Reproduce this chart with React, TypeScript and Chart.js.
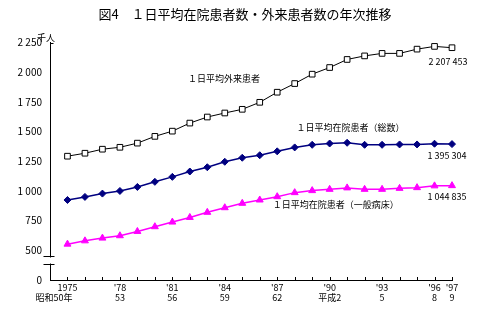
import { useEffect, useRef } from 'react';
import { Chart, registerables } from 'chart.js';

Chart.register(...registerables);

const FONT = '"Noto Sans CJK JP", "Noto Sans", sans-serif';

const TITLE = '図4　１日平均在院患者数・外来患者数の年次推移';
const UNIT = '千人';

const years = [1975, 1976, 1977, 1978, 1979, 1980, 1981, 1982, 1983, 1984, 1985, 1986, 1987, 1988, 1989, 1990, 1991, 1992, 1993, 1994, 1995, 1996, 1997];

// 1日平均外来患者 (千人)
const outpatients = [1293, 1318, 1352, 1368, 1403, 1460, 1504, 1572, 1623, 1657, 1688, 1747, 1832, 1905, 1984, 2040, 2108, 2138, 2159, 2159, 2195, 2218, 2207];
// 1日平均在院患者（総数）
const inpatientsTotal = [924, 950, 978, 1000, 1034, 1077, 1119, 1164, 1200, 1246, 1280, 1301, 1334, 1367, 1389, 1400, 1406, 1389, 1389, 1392, 1392, 1398, 1395];
// 1日平均在院患者（一般病床）
const inpatientsGeneral = [552, 580, 603, 623, 659, 699, 738, 777, 820, 859, 896, 924, 952, 986, 1003, 1014, 1026, 1014, 1014, 1022, 1028, 1043, 1045];

const seriesNames = ['１日平均外来患者', '１日平均在院患者（総数）', '１日平均在院患者（一般病床）'];

// x tick labels
const xLabelYears = [1975, 1978, 1981, 1984, 1987, 1990, 1993, 1996, 1997];
const xLabelTop = ['1975', "'78", "'81", "'84", "'87", "'90", "'93", "'96", "'97"];
const xLabelBottom = ['昭和50年　　　', '53', '56', '59', '62', '平成2', '5', '8', '9'];

// y axis (the lowest tick stands for 0, across the axis break)
const yMin = 250;
const yMax = 2250;
const yStep = 250;

// on-chart labels, anchored in data space (year, value)
const noteTexts = ['１日平均外来患者', '2 207 453', '１日平均在院患者（総数）', '1 395 304', '1 044 835', '１日平均在院患者（一般病床）'];
const noteYears = [1981.9, 1995.65, 1988.1, 1995.6, 1995.6, 1986.75];
const noteValues = [1950, 2094, 1536, 1299, 955, 885];

const fmt = (v: number) => {
  if (v === yMin) return '0';
  if (v >= 1000) return `${Math.floor(v / 1000)} ${String(v % 1000).padStart(3, '0')}`;
  return String(v);
};

const decorPlugin = {
  id: 'decor',
  afterDraw(chart: any) {
    const { ctx, chartArea: a, scales } = chart;
    const xs = scales.x;
    const ys = scales.y;
    ctx.save();
    ctx.strokeStyle = '#000';
    ctx.lineWidth = 1;
    // inward x ticks
    ctx.beginPath();
    years.forEach((yr) => {
      const px = Math.round(xs.getPixelForValue(yr)) + 0.5;
      ctx.moveTo(px, Math.round(a.bottom) + 0.5);
      ctx.lineTo(px, Math.round(a.bottom) - 3);
    });
    // top hook on y axis
    const lx = Math.round(a.left) + 0.5;
    const ty = Math.round(a.top) + 0.5;
    ctx.moveTo(lx, ty);
    ctx.lineTo(lx + 3, ty);
    ctx.stroke();
    // axis break
    const y1 = Math.round(ys.getPixelForValue(455)) + 0.5;
    const y2 = Math.round(ys.getPixelForValue(385)) + 0.5;
    ctx.fillStyle = '#fff';
    ctx.fillRect(lx - 2, y1 + 1, 4, y2 - y1 - 2);
    ctx.beginPath();
    ctx.moveTo(lx - 7, y1);
    ctx.lineTo(lx + 4, y1);
    ctx.moveTo(lx - 7, y2);
    ctx.lineTo(lx + 4, y2);
    ctx.stroke();
    // unit
    ctx.fillStyle = '#000';
    ctx.font = `9px ${FONT}`;
    ctx.textBaseline = 'middle';
    ctx.textAlign = 'center';
    ctx.fillText(UNIT, a.left - 4, a.top - 5);
    // notes
    ctx.textAlign = 'left';
    noteTexts.forEach((t, i) => {
      ctx.fillText(t, xs.getPixelForValue(noteYears[i]), ys.getPixelForValue(noteValues[i]));
    });
    ctx.restore();
  },
};

export default function App() {
  const ref = useRef<HTMLCanvasElement>(null);
  useEffect(() => {
    const toPts = (arr: number[]) => years.map((yr, i) => ({ x: yr, y: arr[i] }));
    const chart = new Chart(ref.current!, {
      type: 'line',
      data: {
        datasets: [
          {
            label: seriesNames[0],
            data: toPts(outpatients),
            borderColor: '#000',
            borderWidth: 1,
            pointStyle: 'rect',
            pointRadius: 4,
            pointBackgroundColor: '#fff',
            pointBorderColor: '#000',
            pointBorderWidth: 1,
            clip: false,
          },
          {
            label: seriesNames[1],
            data: toPts(inpatientsTotal),
            borderColor: '#000080',
            borderWidth: 1.5,
            pointStyle: 'rectRot',
            pointRadius: 3.5,
            pointBackgroundColor: '#000080',
            pointBorderColor: '#000080',
            pointBorderWidth: 1,
            clip: false,
          },
          {
            label: seriesNames[2],
            data: toPts(inpatientsGeneral),
            borderColor: '#ff00ff',
            borderWidth: 1.5,
            pointStyle: 'triangle',
            pointRadius: 4,
            pointBackgroundColor: '#ff00ff',
            pointBorderColor: '#ff00ff',
            pointBorderWidth: 1,
            clip: false,
          },
        ],
      },
      options: {
        animation: false,
        responsive: false,
        devicePixelRatio: 1,
        layout: { padding: 0 },
        plugins: {
          legend: { display: false },
          tooltip: { enabled: false },
          title: {
            display: true,
            text: TITLE,
            color: '#000',
            font: { family: FONT, size: 13, weight: 'normal', lineHeight: 1.2 },
            padding: { top: 6, bottom: 21 },
          },
        },
        scales: {
          x: {
            type: 'linear',
            min: 1974,
            max: 1997,
            afterFit: (s: any) => { s.height = 30; },
            grid: { display: false, drawTicks: false },
            border: { display: true, color: '#000', width: 1 },
            ticks: {
              stepSize: 1,
              autoSkip: false,
              maxRotation: 0,
              minRotation: 0,
              padding: 2,
              color: '#000',
              font: { family: FONT, size: 9, lineHeight: 1.15 },
              callback: (v: any) => {
                const idx = xLabelYears.indexOf(Number(v));
                return idx >= 0 ? [xLabelTop[idx], xLabelBottom[idx]] : '';
              },
            },
          },
          y: {
            type: 'linear',
            position: 'left',
            min: yMin,
            max: yMax,
            afterFit: (s: any) => { s.width = 50; },
            grid: { display: false, drawTicks: false },
            border: { display: true, color: '#000', width: 1 },
            ticks: {
              stepSize: yStep,
              padding: 8,
              color: '#000',
              font: { family: FONT, size: 10 },
              callback: (v: any) => fmt(Number(v)),
            },
          },
          yRight: {
            type: 'linear',
            position: 'right',
            min: yMin,
            max: yMax,
            afterFit: (s: any) => { s.width = 38; },
            grid: { display: false, drawTicks: false },
            border: { display: false },
            ticks: { display: false },
          },
        },
      },
      plugins: [decorPlugin],
    } as any);
    return () => chart.destroy();
  }, []);
  return (
    <div style={{ position: 'fixed', left: 0, top: 0, width: 490, height: 310, background: '#fff' }}>
      <canvas ref={ref} width={490} height={310} style={{ display: 'block' }} />
    </div>
  );
}
